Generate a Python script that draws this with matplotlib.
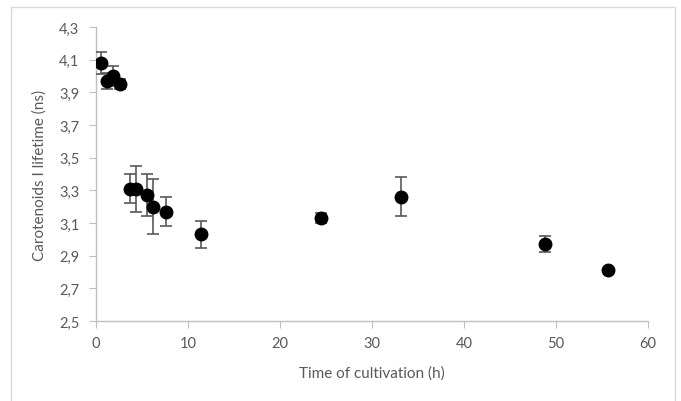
import matplotlib.pyplot as plt
from matplotlib.patches import Rectangle
from matplotlib.ticker import FuncFormatter

# time of cultivation (h)
t = [0.5, 1.2, 1.8, 2.6, 3.7, 4.4, 5.5, 6.2, 7.6, 11.4, 24.5, 33.2, 48.75, 55.7]
# carotenoids I lifetime (ns)
tau = [4.08, 3.97, 4.00, 3.95, 3.31, 3.31, 3.27, 3.20, 3.17, 3.03, 3.13, 3.26, 2.97, 2.81]
# error (ns)
err = [0.07, 0.05, 0.06, 0.03, 0.09, 0.14, 0.13, 0.17, 0.09, 0.08, 0.03, 0.12, 0.05, 0.005]

plt.rcParams['font.family'] = ['Lato', 'DejaVu Sans']

fig = plt.figure(figsize=(6.81, 4.02), dpi=100)
ax = fig.add_axes([96/681, 1-322/402, 552/681, 294/402])

ax.errorbar(t, tau, yerr=err, fmt='o', color='black', markersize=9,
            ecolor='#595959', elinewidth=1.2, capsize=4, capthick=1.2, zorder=3)

ax.set_xlim(0, 60)
ax.set_ylim(2.5, 4.3)
ax.set_xticks(range(0, 61, 10))
ax.set_yticks([2.5 + 0.2*i for i in range(10)])
ax.yaxis.set_major_formatter(FuncFormatter(lambda v, p: f'{v:.1f}'.replace('.', ',')))

for s in ['top', 'right']:
    ax.spines[s].set_visible(False)
for s in ['left', 'bottom']:
    ax.spines[s].set_color('#bfbfbf')
    ax.spines[s].set_linewidth(1.0)
ax.tick_params(colors='#bfbfbf', labelcolor='#595959', labelsize=10.5, length=5)
ax.tick_params(axis='y', pad=7)
ax.tick_params(axis='x', pad=6)

ax.set_xlabel('Time of cultivation (h)', fontsize=11, color='#595959', labelpad=11)
ax.set_ylabel('Carotenoids I lifetime (ns)', fontsize=11, color='#595959', labelpad=9)

# light frame round the chart
fig.patches.append(Rectangle((11/681, -0.01), 664/681, 1-8/402+0.01, transform=fig.transFigure,
                             fill=False, edgecolor='#d9d9d9', linewidth=1))

fig.savefig('out.png', dpi=100)
